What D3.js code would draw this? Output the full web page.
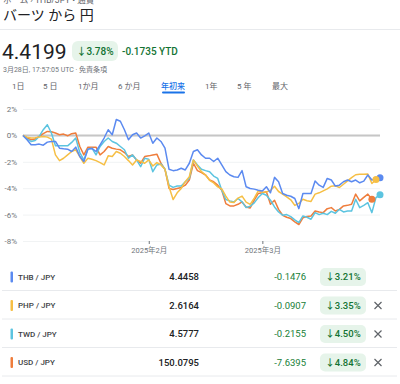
<!DOCTYPE html>
<html>
<head>
<meta charset="utf-8">
<script src="https://d3js.org/d3.v7.min.js"></script>
<style>
body { margin: 0; background: #fff; }
svg text { font-family: Roboto, "Noto Sans CJK JP", sans-serif; }
</style>
</head>
<body>
<svg id="chart" width="400" height="384"></svg>
<script>
// daily % change since Jan 1
var thb = [0,-0.33,-0.71,-0.71,-0.66,-0.74,-0.51,-0.46,-0.46,-0.97,
  -1.02,-1.04,-1.22,-0.89,-1.60,-1.98,-1.04,-0.99,-1.22,-0.71,
  -0.20,0.43,0.05,1.20,1.07,0.43,-0.33,0.05,0.18,-0.20,
  -0.03,0.18,-0.59,-0.20,-0.46,-0.97,-2.57,-2.67,-2.62,-2.49,
  -2.62,-2.11,-1.22,-1.09,-1.48,-1.73,-1.73,-1.98,-1.73,-2.24,
  -2.75,-3.00,-3.13,-3.18,-2.67,-3.89,-4.02,-4.07,-4.15,-4.22,
  -3.89,-4.35,-3.18,-3.51,-4.40,-4.53,-4.61,-4.78,-5.55,-4.40,
  -4.40,-4.40,-3.46,-3.77,-3.94,-3.26,-3.38,-3.84,-3.77,-3.51,
  -3.38,-3.51,-3.38,-3.59,-3.46,-3.00,-3.38,-3.26,-3.21];
var php = [0,-0.13,-0.2,-0.18,-0.13,-0.08,-0.13,-0.28,-1.48,-1.91,
  -1.73,-1.48,-1.22,-1.09,-1.6,-2.11,-1.73,-1.81,-1.91,-2.06,
  -2.24,-1.55,-1.6,-1.22,-1.35,-1.6,-1.91,-2.24,-1.86,-1.98,
  -2.11,-1.86,-2.32,-2.06,-2.24,-2.57,-3.89,-4.86,-4.35,-4.02,
  -3.51,-3.13,-1.86,-2.32,-2.75,-3.0,-3.4,-3.6,-3.9,-4.05,
  -4.6,-5.05,-5.09,-4.75,-4.6,-5.05,-5.22,-4.75,-4.2,-4.3,
  -4.28,-4.18,-3.85,-4.25,-4.45,-4.65,-4.88,-5.3,-5.15,-4.84,
  -4.95,-5.0,-4.45,-4.35,-4.2,-4.05,-3.85,-3.82,-3.95,-3.7,
  -3.44,-3.2,-2.98,-2.95,-2.94,-2.93,-3.64,-3.35];
var twd = [0,-0.28,-0.46,-0.38,-0.08,0.43,0.81,0.18,-0.79,-0.79,
  -0.79,-0.79,-0.53,-0.2,-1.3,-1.86,-1.04,-0.97,-1.48,-0.84,
  -0.46,-0.2,-0.46,-0.59,-0.84,-1.09,-1.73,-1.48,-1.86,-2.37,
  -1.73,-1.81,-2.75,-2.24,-2.16,-2.57,-3.77,-3.94,-3.84,-3.84,
  -3.51,-3.26,-1.86,-2.24,-2.57,-2.67,-2.75,-3.08,-3.26,-4.15,
  -4.86,-4.96,-5.04,-4.78,-5.04,-5.47,-5.37,-5.11,-4.71,-4.40,
  -4.53,-4.91,-5.42,-5.8,-6.05,-6.0,-6.15,-6.4,-6.6,-6.1,
  -6.2,-6.35,-5.85,-6.0,-5.9,-6.0,-5.75,-5.9,-5.6,-5.8,
  -5.73,-5.73,-4.84,-5.47,-5.3,-5.1,-5.85,-4.71,-4.5];
var usd = [0,-0.2,-0.33,-0.28,-0.08,0.13,0.3,0.28,0.18,0.05,
  0.1,-0.03,0.13,0.18,-0.84,-1.48,-0.89,-0.89,-0.89,-1.48,
  -1.22,-0.84,-0.97,-1.04,-1.09,-1.3,-1.6,-1.48,-1.86,-2.11,
  -1.6,-1.55,-1.48,-1.42,-2.11,-2.57,-4.02,-4.10,-4.02,-3.94,
  -3.77,-3.38,-2.11,-2.67,-2.82,-3.0,-3.38,-3.51,-3.77,-4.15,
  -5.17,-5.34,-5.34,-5.22,-5.04,-5.42,-5.5,-4.91,-4.4,-4.35,
  -4.27,-5.22,-4.91,-5.6,-6.05,-6.2,-6.3,-6.55,-6.75,-6.24,
  -6.15,-6.11,-5.73,-5.8,-5.85,-5.55,-5.47,-5.73,-5.6,-5.34,
  -5.3,-5.22,-4.45,-4.96,-4.7,-4.45,-4.84];

var pairs = ["THB / JPY", "PHP / JPY", "TWD / JPY", "USD / JPY"];
var prices = ["4.4458", "2.6164", "4.5777", "150.0795"];
var changes = ["-0.1476", "-0.0907", "-0.2155", "-7.6395"];
var pcts = ["3.21%", "3.35%", "4.50%", "4.84%"];
var colors = ["#5b8af0", "#f6bf45", "#5cc4e0", "#ef7d3c"];
var yTicks = [2, 0, -2, -4, -6, -8];
var tabs = ["1日", "5 日", "1か月", "6 か月", "年初来", "1年", "5 年", "最大"];
var tabX = [12, 43, 78, 118, 161, 205, 237, 272];

var start = new Date(2025, 0, 1);
var dates = d3.range(89).map(function(i) { return d3.timeDay.offset(start, i); });
var series = [thb, php, twd, usd];

var svg = d3.select("#chart");
var green = "#137333";

/***** header *****/
svg.append("text").attr("x", 3).attr("y", 3).attr("font-size", 8.5).attr("fill", "#5f6368")
  .text("ホーム › THB/JPY • 通貨");
svg.append("text").attr("x", 3).attr("y", 20).attr("font-size", 14).attr("fill", "#202124")
  .text("バーツ から 円");
svg.append("line").attr("x1", 0).attr("x2", 400).attr("y1", 29.5).attr("y2", 29.5)
  .attr("stroke", "#e8eaed");
svg.append("text").attr("x", 2).attr("y", 59).attr("font-size", 21).attr("fill", "#202124")
  .text("4.4199");
svg.append("rect").attr("x", 72).attr("y", 41).attr("width", 46).attr("height", 20)
  .attr("rx", 6).attr("fill", "#e6f4ea");
svg.append("text").attr("x", 95).attr("y", 51).attr("dy", "0.35em").attr("text-anchor", "middle")
  .attr("font-size", 10).attr("font-weight", 500).attr("fill", green).text("↓3.78%");
svg.append("text").attr("x", 122).attr("y", 51).attr("dy", "0.35em")
  .attr("font-size", 10).attr("font-weight", 500).attr("fill", green).text("-0.1735 YTD");
svg.append("text").attr("x", 3).attr("y", 70).attr("dy", "0.35em").attr("font-size", 7)
  .attr("fill", "#70757a").text("3月28日, 17:57:05 UTC · 免責条項");

svg.selectAll(".tab").data(tabs).enter().append("text")
  .attr("class", "tab")
  .attr("x", function(d, i) { return tabX[i]; })
  .attr("y", 86).attr("dy", "0.35em").attr("font-size", 8)
  .attr("font-weight", function(d) { return d == "年初来" ? 500 : 400; })
  .attr("fill", function(d) { return d == "年初来" ? "#1a73e8" : "#5f6368"; })
  .text(function(d) { return d; });
svg.append("rect").attr("x", 162).attr("y", 91.5).attr("width", 23).attr("height", 2)
  .attr("rx", 1).attr("fill", "#1a73e8");

/***** chart *****/
var x = d3.scaleTime().domain([start, new Date(2025, 2, 30)]).range([23, 380]);
var y = d3.scaleLinear().domain([-8, 2]).range([241, 109]);

var yAxis = svg.append("g").attr("transform", "translate(23,0)")
  .call(d3.axisLeft(y).tickValues(yTicks).tickSize(-357).tickPadding(6)
    .tickFormat(function(d) { return d + "%"; }));
yAxis.select(".domain").remove();
yAxis.selectAll("line").attr("stroke", "#f1f3f4");
yAxis.selectAll("text").attr("font-size", 8).attr("fill", "#70757a")
  .style("font-family", "Roboto, sans-serif");

svg.append("line").attr("x1", 23).attr("x2", 380).attr("y1", y(0)).attr("y2", y(0))
  .attr("stroke", "#c6c6c6").attr("stroke-width", 2);

var xAxis = svg.append("g").attr("transform", "translate(0,241)")
  .call(d3.axisBottom(x).tickValues([new Date(2025, 1, 1), new Date(2025, 2, 1)])
    .tickSize(3).tickPadding(4).tickFormat(d3.timeFormat("%Y年%-m月")));
xAxis.select(".domain").remove();
xAxis.selectAll("line").attr("stroke", "#70757a");
xAxis.selectAll("text").attr("font-size", 7.5).attr("fill", "#70757a")
  .style("font-family", "Roboto, 'Noto Sans CJK JP', sans-serif");

var line = d3.line()
  .x(function(d, i) { return x(dates[i]); })
  .y(function(d) { return y(d); });

// draw back to front so THB ends on top
for (var s = series.length - 1; s >= 0; s--) {
  var vals = series[s];
  svg.append("path").datum(vals).attr("d", line)
    .attr("fill", "none").attr("stroke", colors[s]).attr("stroke-width", 1.5)
    .attr("stroke-linejoin", "round");
}
series.forEach(function(vals, s) {
  var n = vals.length - 1;
  svg.append("circle").attr("cx", x(dates[n])).attr("cy", y(vals[n])).attr("r", 3.5)
    .attr("fill", colors[s]);
});

/***** table *****/
var rows = svg.selectAll(".row").data(pairs).enter().append("g")
  .attr("class", "row")
  .attr("transform", function(d, i) { return "translate(0," + (277 + i * 28.5) + ")"; });

rows.append("rect").attr("x", 10.5).attr("y", -5.5).attr("width", 2.5).attr("height", 11)
  .attr("rx", 1).attr("fill", function(d, i) { return colors[i]; });
rows.append("text").attr("x", 18).attr("dy", "0.35em").attr("font-size", 8)
  .attr("font-weight", 500).attr("fill", "#3c4043").text(function(d) { return d; });
rows.append("text").attr("x", 199).attr("dy", "0.35em").attr("text-anchor", "end")
  .attr("font-size", 9.5).attr("font-weight", 500).attr("fill", "#202124")
  .text(function(d, i) { return prices[i]; });
rows.append("text").attr("x", 306).attr("dy", "0.35em").attr("text-anchor", "end")
  .attr("font-size", 9.5).attr("fill", "#188038")
  .text(function(d, i) { return changes[i]; });
rows.append("rect").attr("x", 320).attr("y", -9).attr("width", 46).attr("height", 18)
  .attr("rx", 5).attr("fill", "#e6f4ea");
rows.append("text").attr("x", 343).attr("dy", "0.35em").attr("text-anchor", "middle")
  .attr("font-size", 9.5).attr("font-weight", 500).attr("fill", green)
  .text(function(d, i) { return "↓" + pcts[i]; });
rows.append("line").attr("x1", 2).attr("x2", 397).attr("y1", 13.5).attr("y2", 13.5)
  .attr("stroke", "#e8eaed");
rows.filter(function(d, i) { return i > 0; }).append("path")
  .attr("d", "M374.5,-3.5L381.5,3.5M381.5,-3.5L374.5,3.5")
  .attr("stroke", "#5f6368").attr("stroke-width", 1.2);
</script>
</body>
</html>
